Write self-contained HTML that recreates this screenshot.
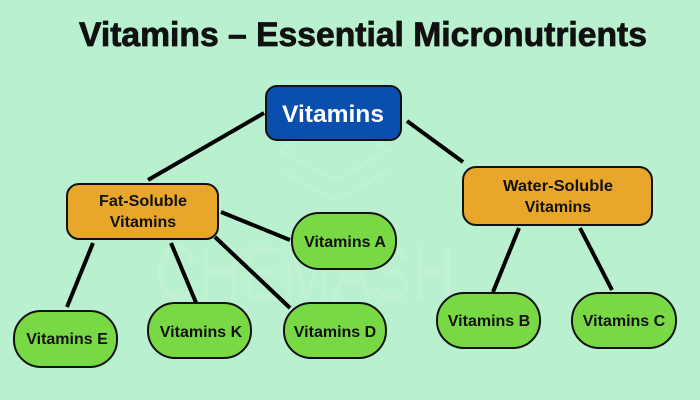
<!DOCTYPE html>
<html><head><meta charset="utf-8"><style>
html,body{margin:0;padding:0;background:#b9f0cf;}
svg{display:block;}
text{font-family:"Liberation Sans",sans-serif;font-weight:bold;}
</style></head><body>
<svg width="700" height="400" viewBox="0 0 700 400" xmlns="http://www.w3.org/2000/svg">
<rect width="700" height="400" fill="#b9f0cf"/>
<!-- faint watermark -->
<g opacity="0.3" fill="none" stroke="#d2f5e0" stroke-width="3">
<path d="M280 150 L335 120 L390 150 L335 180 Z"/>
<path d="M280 170 L335 200 L390 170"/>
</g>
<text x="305" y="300" text-anchor="middle" font-size="78" style="font-weight:normal" fill="#c0f1d3" textLength="300" lengthAdjust="spacingAndGlyphs">CHEMASH</text>
<!-- title -->
<text x="79" y="46" font-size="34" fill="#111" stroke="#111" stroke-width="0.8" textLength="568" lengthAdjust="spacingAndGlyphs">Vitamins – Essential Micronutrients</text>
<!-- connectors -->
<g stroke="#000" stroke-width="4" stroke-linecap="butt">
<line x1="264" y1="113" x2="148" y2="180"/>
<line x1="407" y1="121" x2="463" y2="162"/>
<line x1="221" y1="212" x2="290" y2="240"/>
<line x1="93" y1="243" x2="67" y2="307"/>
<line x1="171" y1="243" x2="197" y2="305"/>
<line x1="215" y1="237" x2="290" y2="308"/>
<line x1="519" y1="228" x2="493" y2="292"/>
<line x1="580" y1="228" x2="612" y2="290"/>
</g>
<!-- root -->
<rect x="266" y="86" width="135" height="54" rx="11" fill="#0a4fad" stroke="#111" stroke-width="2"/>
<text x="333" y="122" text-anchor="middle" font-size="24" fill="#fff" textLength="102" lengthAdjust="spacingAndGlyphs">Vitamins</text>
<!-- category boxes -->
<rect x="67" y="184" width="151" height="55" rx="12" fill="#e8a62a" stroke="#111" stroke-width="2"/>
<text x="143" y="206" text-anchor="middle" font-size="16" fill="#111" textLength="88" lengthAdjust="spacingAndGlyphs">Fat-Soluble</text>
<text x="143" y="227" text-anchor="middle" font-size="16" fill="#111">Vitamins</text>
<rect x="463" y="167" width="189" height="58" rx="13" fill="#e8a62a" stroke="#111" stroke-width="2"/>
<text x="558" y="191" text-anchor="middle" font-size="16" fill="#111" textLength="110" lengthAdjust="spacingAndGlyphs">Water-Soluble</text>
<text x="558" y="212" text-anchor="middle" font-size="16" fill="#111">Vitamins</text>
<!-- pills -->
<g fill="#79d944" stroke="#111" stroke-width="2">
<rect x="292" y="213" width="104" height="56" rx="27"/>
<rect x="14" y="311" width="103" height="56" rx="27"/>
<rect x="148" y="303" width="103" height="55" rx="27"/>
<rect x="284" y="303" width="102" height="55" rx="27"/>
<rect x="437" y="293" width="103" height="55" rx="27"/>
<rect x="572" y="293" width="104" height="55" rx="27"/>
</g>
<g font-size="16" fill="#111" text-anchor="middle">
<text x="345" y="247">Vitamins A</text>
<text x="67" y="344">Vitamins E</text>
<text x="201" y="337">Vitamins K</text>
<text x="335" y="337">Vitamins D</text>
<text x="489" y="326">Vitamins B</text>
<text x="624" y="326">Vitamins C</text>
</g>
</svg>
</body></html>
